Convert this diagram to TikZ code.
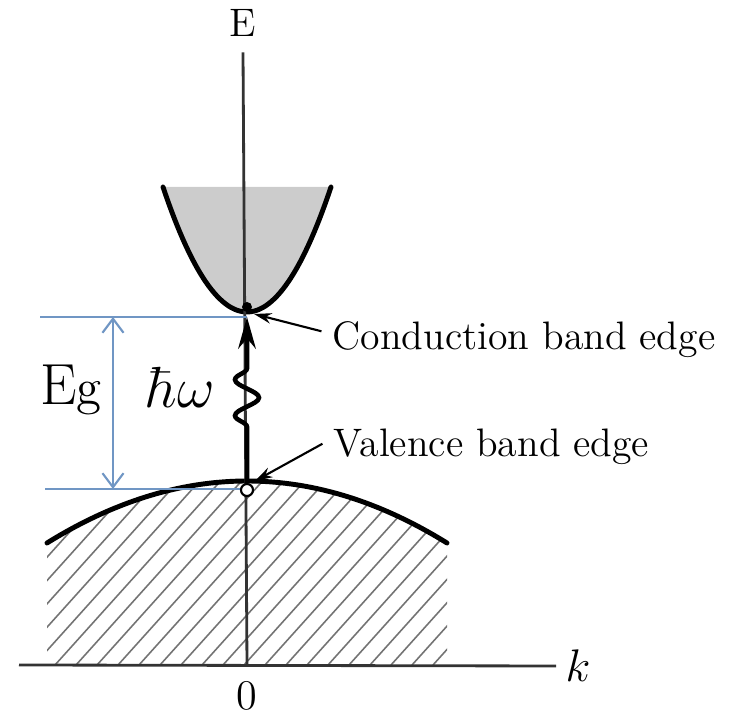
\documentclass[tikz,border=0pt]{standalone}
\usepackage{fix-cm}
\usepackage{fontspec}
\usepackage{tikz}
\usetikzlibrary{arrows.meta,decorations.pathmorphing}
\definecolor{gapblue}{RGB}{112,150,196}

\begin{document}
\begin{tikzpicture}[x=0.01cm,y=-0.01cm,>=Stealth,
  band/.style={line width=1.4pt,line cap=round},
  axis/.style={line width=0.8pt,black!80},
  gapline/.style={gapblue,line width=0.6pt},
  hatchline/.style={black!55,line width=0.45pt},
  pointer/.style={line width=0.6pt,-{Stealth[length=5pt,width=3pt]}},
  txt/.style={font=\fontsize{11.3}{13.5}\selectfont,inner sep=0pt},
  photon/.style={line width=1.3pt,decorate,
    decoration={snake,segment length=0.36cm,amplitude=0.12cm,
      pre length=0.56cm,post length=0.46cm},
    -{Stealth[length=9pt,width=5pt]}}]
  \useasboundingbox (0,0) rectangle (751,716);

  % Hatched valence band below its edge.
  \begin{scope}
    \clip plot[domain=47:447,samples=50] (\x,{481+62*((\x-247)/200)^2})
      -- (447,665) -- (47,665) -- cycle;
    \foreach \s in {-260,-239,...,460}
      \draw[hatchline] (\s,665) -- (\s+270,365);
  \end{scope}
  \draw[band] plot[domain=47:447,samples=60] (\x,{481+62*((\x-247)/200)^2});

  % Shaded conduction band.
  \fill[black!20] plot[domain=163:331,samples=60]
    (\x,{312-125*((\x-247)/84)^2}) -- cycle;
  \draw[band] plot[domain=163:331,samples=60] (\x,{312-125*((\x-247)/84)^2});

  % Axes E and k.
  \node[txt,anchor=base] (elabel) at (243,37) {E};
  \node[txt,font=\fontsize{13}{15}\selectfont] (klabel) at (578,666) {$k$};
  \node[txt,font=\fontsize{12}{14}\selectfont] (zero) at (247,696) {0};
  \coordinate (origin) at (247,665);
  \coordinate (kstart) at (19,665);
  \draw[axis] ([yshift=-4.2pt]elabel.south) -- (origin);
  \draw[axis] (kstart) -- ([xshift=-2.5pt]klabel.west);

  % The gap E_g between the two band edges.
  \coordinate (cbedge) at (247,317);
  \coordinate (vbedge) at (247,489);
  \coordinate (gaptop) at (40,317);
  \coordinate (gapbot) at (45,489);
  \coordinate (egtop) at (113,317);
  \coordinate (egbot) at (113,489);
  \draw[gapline] (gaptop) -- (cbedge);
  \draw[gapline] (gapbot) -- (vbedge);
  \draw[gapline,{Straight Barb[length=4pt,width=6pt]}-{Straight Barb[length=4pt,width=6pt]}]
    (egtop) -- (egbot);
  \node[inner sep=0pt,anchor=base] (eg) at (71,405)
    {\fontsize{16.5}{19}\selectfont E\fontsize{14.5}{17}\selectfont g};

  % Electron at the conduction edge, hole at the valence edge.
  \node[circle,fill,inner sep=0pt,minimum size=0.1cm] (cbdot) at (247,307) {};
  \node[circle,draw,fill=white,line width=0.6pt,inner sep=0pt,
    minimum size=0.12cm] (vbhole) at (247,490) {};

  % Photon absorption.
  \draw[photon] (vbhole.north) -- (cbedge);
  \node[inner sep=0pt,anchor=base,font=\fontsize{16.5}{19}\selectfont]
    (hw) at (181,408) {$\hbar\omega$};

  % Band edge labels.
  \coordinate (cbtip) at (254,314);
  \coordinate (vbtip) at (255,481);
  \node[txt,anchor=base west] (cbtext) at (332,350) {Conduction band edge};
  \node[txt,anchor=base west] (vbtext) at (333,457) {Valence band edge};
  \draw[pointer] ([xshift=-3pt,yshift=2.5pt]cbtext.west) -- (cbtip);
  \draw[pointer] ([xshift=-3pt,yshift=1pt]vbtext.west) -- (vbtip);
\end{tikzpicture}
\end{document}
